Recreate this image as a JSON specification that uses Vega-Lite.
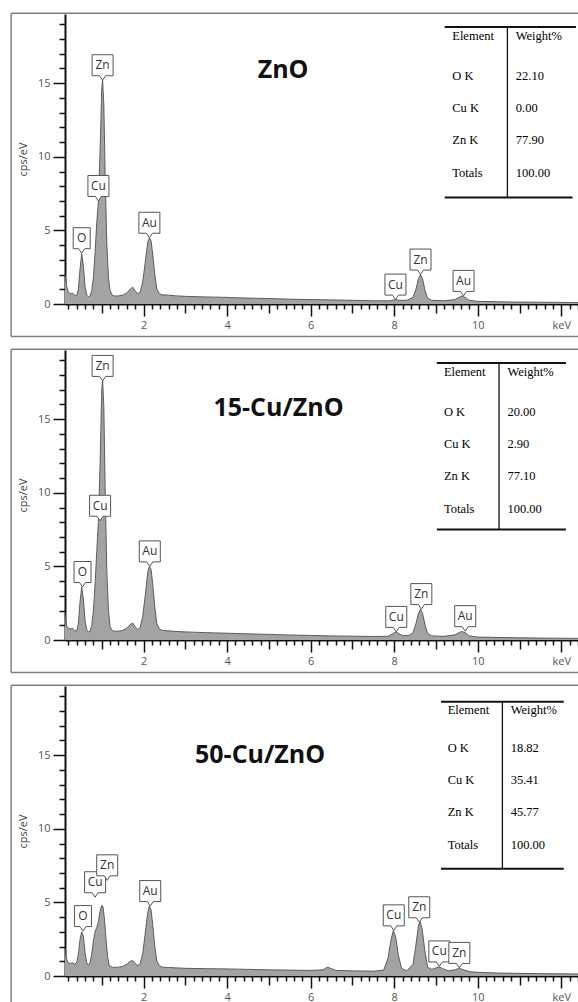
{
"$schema": "https://vega.github.io/schema/vega-lite/v6.json",
"padding": {"left": 10, "top": 12, "right": 0, "bottom": 0},
"spacing": 10,
"config": {"view": {"stroke": null}, "font": "Open Sans"},
"resolve": {"scale": {"x": "independent", "y": "independent", "shape": "independent"}},
"datasets": {
"s1": [{"keV":0.12,"cps":2.0},{"keV":0.15,"cps":1.3},{"keV":0.2,"cps":0.8},{"keV":0.25,"cps":0.7},{"keV":0.3,"cps":0.75},{"keV":0.35,"cps":0.6},{"keV":0.4,"cps":0.55},{"keV":0.44,"cps":1.0},{"keV":0.48,"cps":2.4},{"keV":0.52,"cps":3.4},{"keV":0.56,"cps":2.6},{"keV":0.6,"cps":1.2},{"keV":0.64,"cps":0.6},{"keV":0.68,"cps":0.5},{"keV":0.72,"cps":0.55},{"keV":0.76,"cps":0.9},{"keV":0.8,"cps":1.8},{"keV":0.84,"cps":3.5},{"keV":0.88,"cps":5.5},{"keV":0.92,"cps":7.0},{"keV":0.96,"cps":10.5},{"keV":1.0,"cps":14.6},{"keV":1.02,"cps":15.2},{"keV":1.05,"cps":13.5},{"keV":1.08,"cps":9.0},{"keV":1.12,"cps":4.2},{"keV":1.16,"cps":1.8},{"keV":1.2,"cps":0.9},{"keV":1.25,"cps":0.6},{"keV":1.3,"cps":0.55},{"keV":1.4,"cps":0.55},{"keV":1.5,"cps":0.6},{"keV":1.6,"cps":0.75},{"keV":1.68,"cps":1.0},{"keV":1.74,"cps":1.15},{"keV":1.8,"cps":0.9},{"keV":1.86,"cps":0.7},{"keV":1.92,"cps":0.8},{"keV":1.98,"cps":1.5},{"keV":2.04,"cps":2.8},{"keV":2.1,"cps":4.2},{"keV":2.14,"cps":4.5},{"keV":2.18,"cps":4.3},{"keV":2.22,"cps":3.4},{"keV":2.27,"cps":2.0},{"keV":2.32,"cps":1.0},{"keV":2.38,"cps":0.7},{"keV":2.45,"cps":0.62},{"keV":2.6,"cps":0.6},{"keV":2.8,"cps":0.55},{"keV":3.0,"cps":0.52},{"keV":3.5,"cps":0.48},{"keV":4.0,"cps":0.45},{"keV":4.5,"cps":0.4},{"keV":5.0,"cps":0.37},{"keV":5.5,"cps":0.33},{"keV":6.0,"cps":0.3},{"keV":6.5,"cps":0.28},{"keV":7.0,"cps":0.25},{"keV":7.5,"cps":0.22},{"keV":7.9,"cps":0.22},{"keV":8.0,"cps":0.28},{"keV":8.05,"cps":0.3},{"keV":8.12,"cps":0.25},{"keV":8.3,"cps":0.25},{"keV":8.45,"cps":0.45},{"keV":8.52,"cps":1.0},{"keV":8.58,"cps":1.7},{"keV":8.63,"cps":2.0},{"keV":8.68,"cps":1.7},{"keV":8.74,"cps":0.9},{"keV":8.8,"cps":0.4},{"keV":8.9,"cps":0.25},{"keV":9.2,"cps":0.22},{"keV":9.45,"cps":0.3},{"keV":9.55,"cps":0.45},{"keV":9.62,"cps":0.55},{"keV":9.7,"cps":0.45},{"keV":9.8,"cps":0.25},{"keV":10.0,"cps":0.18},{"keV":10.5,"cps":0.15},{"keV":11.0,"cps":0.13},{"keV":11.5,"cps":0.12},{"keV":12.0,"cps":0.11},{"keV":12.4,"cps":0.1}],
"s2": [{"keV":0.12,"cps":1.8},{"keV":0.15,"cps":1.0},{"keV":0.2,"cps":0.8},{"keV":0.25,"cps":0.75},{"keV":0.3,"cps":0.8},{"keV":0.35,"cps":0.65},{"keV":0.4,"cps":0.6},{"keV":0.44,"cps":1.1},{"keV":0.48,"cps":2.6},{"keV":0.52,"cps":3.6},{"keV":0.56,"cps":2.8},{"keV":0.6,"cps":1.3},{"keV":0.64,"cps":0.7},{"keV":0.68,"cps":0.55},{"keV":0.72,"cps":0.6},{"keV":0.76,"cps":1.0},{"keV":0.8,"cps":2.0},{"keV":0.84,"cps":3.8},{"keV":0.88,"cps":6.0},{"keV":0.92,"cps":8.1},{"keV":0.96,"cps":12.0},{"keV":1.0,"cps":17.0},{"keV":1.02,"cps":17.7},{"keV":1.05,"cps":15.8},{"keV":1.08,"cps":10.5},{"keV":1.12,"cps":4.8},{"keV":1.16,"cps":2.0},{"keV":1.2,"cps":0.9},{"keV":1.25,"cps":0.65},{"keV":1.3,"cps":0.6},{"keV":1.4,"cps":0.6},{"keV":1.5,"cps":0.65},{"keV":1.6,"cps":0.8},{"keV":1.68,"cps":1.05},{"keV":1.74,"cps":1.15},{"keV":1.8,"cps":0.9},{"keV":1.86,"cps":0.7},{"keV":1.92,"cps":0.85},{"keV":1.98,"cps":1.6},{"keV":2.04,"cps":3.0},{"keV":2.1,"cps":4.6},{"keV":2.14,"cps":5.0},{"keV":2.18,"cps":4.8},{"keV":2.22,"cps":3.8},{"keV":2.27,"cps":2.2},{"keV":2.32,"cps":1.1},{"keV":2.38,"cps":0.75},{"keV":2.45,"cps":0.65},{"keV":2.6,"cps":0.62},{"keV":2.8,"cps":0.58},{"keV":3.0,"cps":0.55},{"keV":3.5,"cps":0.5},{"keV":4.0,"cps":0.46},{"keV":4.5,"cps":0.42},{"keV":5.0,"cps":0.38},{"keV":5.5,"cps":0.34},{"keV":6.0,"cps":0.31},{"keV":6.5,"cps":0.28},{"keV":7.0,"cps":0.26},{"keV":7.5,"cps":0.24},{"keV":7.85,"cps":0.25},{"keV":7.95,"cps":0.4},{"keV":8.03,"cps":0.55},{"keV":8.1,"cps":0.45},{"keV":8.2,"cps":0.3},{"keV":8.35,"cps":0.3},{"keV":8.45,"cps":0.5},{"keV":8.52,"cps":1.1},{"keV":8.58,"cps":1.8},{"keV":8.63,"cps":2.1},{"keV":8.68,"cps":1.8},{"keV":8.74,"cps":1.0},{"keV":8.8,"cps":0.45},{"keV":8.9,"cps":0.28},{"keV":9.2,"cps":0.25},{"keV":9.45,"cps":0.35},{"keV":9.55,"cps":0.5},{"keV":9.62,"cps":0.58},{"keV":9.7,"cps":0.5},{"keV":9.8,"cps":0.28},{"keV":10.0,"cps":0.2},{"keV":10.5,"cps":0.17},{"keV":11.0,"cps":0.15},{"keV":11.5,"cps":0.13},{"keV":12.0,"cps":0.12},{"keV":12.4,"cps":0.11}],
"s3": [{"keV":0.12,"cps":1.9},{"keV":0.15,"cps":1.2},{"keV":0.2,"cps":0.9},{"keV":0.25,"cps":0.85},{"keV":0.3,"cps":0.9},{"keV":0.35,"cps":0.8},{"keV":0.4,"cps":0.9},{"keV":0.44,"cps":1.5},{"keV":0.48,"cps":2.5},{"keV":0.52,"cps":3.0},{"keV":0.56,"cps":2.7},{"keV":0.6,"cps":1.6},{"keV":0.64,"cps":0.9},{"keV":0.68,"cps":0.75},{"keV":0.72,"cps":0.9},{"keV":0.76,"cps":1.5},{"keV":0.8,"cps":2.4},{"keV":0.84,"cps":3.0},{"keV":0.88,"cps":3.3},{"keV":0.92,"cps":3.7},{"keV":0.96,"cps":4.4},{"keV":1.0,"cps":4.8},{"keV":1.03,"cps":4.7},{"keV":1.06,"cps":4.0},{"keV":1.1,"cps":2.6},{"keV":1.14,"cps":1.3},{"keV":1.18,"cps":0.7},{"keV":1.25,"cps":0.6},{"keV":1.3,"cps":0.58},{"keV":1.4,"cps":0.6},{"keV":1.5,"cps":0.65},{"keV":1.6,"cps":0.8},{"keV":1.68,"cps":1.0},{"keV":1.74,"cps":1.05},{"keV":1.8,"cps":0.85},{"keV":1.86,"cps":0.7},{"keV":1.92,"cps":0.85},{"keV":1.98,"cps":1.5},{"keV":2.04,"cps":2.9},{"keV":2.1,"cps":4.3},{"keV":2.14,"cps":4.75},{"keV":2.18,"cps":4.5},{"keV":2.22,"cps":3.5},{"keV":2.27,"cps":2.0},{"keV":2.32,"cps":1.0},{"keV":2.38,"cps":0.7},{"keV":2.45,"cps":0.6},{"keV":2.6,"cps":0.58},{"keV":2.8,"cps":0.55},{"keV":3.0,"cps":0.52},{"keV":3.5,"cps":0.5},{"keV":4.0,"cps":0.48},{"keV":4.5,"cps":0.45},{"keV":5.0,"cps":0.42},{"keV":5.5,"cps":0.4},{"keV":6.0,"cps":0.38},{"keV":6.3,"cps":0.42},{"keV":6.4,"cps":0.6},{"keV":6.5,"cps":0.5},{"keV":6.6,"cps":0.38},{"keV":7.0,"cps":0.35},{"keV":7.5,"cps":0.33},{"keV":7.75,"cps":0.4},{"keV":7.85,"cps":1.2},{"keV":7.92,"cps":2.4},{"keV":7.98,"cps":3.1},{"keV":8.04,"cps":2.6},{"keV":8.1,"cps":1.4},{"keV":8.18,"cps":0.5},{"keV":8.3,"cps":0.35},{"keV":8.45,"cps":0.8},{"keV":8.52,"cps":2.1},{"keV":8.58,"cps":3.4},{"keV":8.62,"cps":3.7},{"keV":8.67,"cps":3.2},{"keV":8.73,"cps":1.8},{"keV":8.8,"cps":0.6},{"keV":8.9,"cps":0.45},{"keV":9.0,"cps":0.55},{"keV":9.08,"cps":0.62},{"keV":9.16,"cps":0.5},{"keV":9.3,"cps":0.35},{"keV":9.45,"cps":0.42},{"keV":9.56,"cps":0.52},{"keV":9.66,"cps":0.42},{"keV":9.8,"cps":0.3},{"keV":10.0,"cps":0.25},{"keV":10.5,"cps":0.2},{"keV":11.0,"cps":0.18},{"keV":11.5,"cps":0.16},{"keV":12.0,"cps":0.15},{"keV":12.4,"cps":0.14}],
"l1": [{"el":"O","keV":0.52,"cps":3.45},{"el":"Cu","keV":0.92,"cps":7.0},{"el":"Zn","keV":1.02,"cps":15.2},{"el":"Au","keV":2.14,"cps":4.5},{"el":"Cu","keV":8.03,"cps":0.3},{"el":"Zn","keV":8.63,"cps":2.0},{"el":"Au","keV":9.66,"cps":0.55}],
"l2": [{"el":"O","keV":0.54,"cps":3.6},{"el":"Cu","keV":0.96,"cps":8.1},{"el":"Zn","keV":1.02,"cps":17.6},{"el":"Au","keV":2.15,"cps":5.0},{"el":"Cu","keV":8.05,"cps":0.55},{"el":"Zn","keV":8.65,"cps":2.1},{"el":"Au","keV":9.7,"cps":0.6}],
"l3": [{"el":"O","keV":0.55,"cps":3.05},{"el":"Cu","keV":0.84,"cps":5.35},{"el":"Zn","keV":1.13,"cps":6.5},{"el":"Au","keV":2.16,"cps":4.75},{"el":"Cu","keV":7.99,"cps":3.1},{"el":"Zn","keV":8.6,"cps":3.65},{"el":"Cu","keV":9.08,"cps":0.65},{"el":"Zn","keV":9.56,"cps":0.55}],
"t1": [{"row":1,"el":"O K","wt":"22.10"},{"row":2,"el":"Cu K","wt":"0.00"},{"row":3,"el":"Zn K","wt":"77.90"},{"row":4,"el":"Totals","wt":"100.00"}],
"t2": [{"row":1,"el":"O K","wt":"20.00"},{"row":2,"el":"Cu K","wt":"2.90"},{"row":3,"el":"Zn K","wt":"77.10"},{"row":4,"el":"Totals","wt":"100.00"}],
"t3": [{"row":1,"el":"O K","wt":"18.82"},{"row":2,"el":"Cu K","wt":"35.41"},{"row":3,"el":"Zn K","wt":"45.77"},{"row":4,"el":"Totals","wt":"100.00"}]
},
"vconcat": [
{
"width": 513, "height": 290,
"resolve": {"scale": {"y": "independent"}},
"layer": [
{"layer": [
{"data": {"name": "s1"}, "mark": {"type": "area", "color": "#a3a3a3", "opacity": 1, "line": {"color": "#505050", "strokeWidth": 0.9}},
 "encoding": {
  "x": {"field": "keV", "type": "quantitative", "scale": {"domain": [0.12, 12.4], "nice": false, "zero": false},
   "axis": {"values": [0.2,0.4,0.6,0.8,1,1.2,1.4,1.6,1.8,2,2.2,2.4,2.6,2.8,3,3.2,3.4,3.6,3.8,4,4.2,4.4,4.6,4.8,5,5.2,5.4,5.6,5.8,6,6.2,6.4,6.6,6.8,7,7.2,7.4,7.6,7.8,8,8.2,8.4,8.6,8.8,9,9.2,9.4,9.6,9.8,10,10.2,10.4,10.6,10.8,11,11.2,11.4,11.6,11.8,12,12.2,12.4], "tickCount": 200,
    "title": null, "grid": false, "labelExpr": "datum.value === 12 ? 'keV' : (datum.value % 2 === 0 ? '' + datum.value : '')",
    "tickSize": {"condition": [{"test": "datum.value % 2 === 0", "value": 12}, {"test": "datum.value % 1 === 0", "value": 9}], "value": 5},
    "labelPadding": 3, "labelOverlap": false, "labelFlush": false, "labelBound": false, "domainColor": "#111", "domainWidth": 2, "tickColor": "#111", "tickWidth": 1.5, "labelFontSize": 11, "labelColor": "#555", "labelFont": "Open Sans"}},
  "y": {"field": "cps", "type": "quantitative", "scale": {"domain": [0, 19.7], "nice": false},
   "axis": {"values": [0,1,2,3,4,5,6,7,8,9,10,11,12,13,14,15,16,17,18,19], "tickCount": 200, "title": "cps/eV", "grid": false,
    "labelExpr": "datum.value % 5 === 0 ? '' + datum.value : ''",
    "tickSize": {"condition": {"test": "datum.value % 5 === 0", "value": 12}, "value": 6},
    "labelPadding": 3, "labelOverlap": false, "labelFlush": false, "labelBound": false, "domainColor": "#111", "domainWidth": 2, "tickColor": "#111", "tickWidth": 1.5, "labelFontSize": 11, "labelColor": "#555", "labelFont": "Open Sans",
    "titleFontSize": 11, "titleFontWeight": "normal", "titleColor": "#444", "titleFont": "Open Sans", "titlePadding": 9}}
 }},
{"data": {"values": [{}]}, "mark": {"type": "rule", "color": "#808080", "strokeWidth": 1.5}, "encoding": {"x": {"datum": -1.17}, "x2": {"datum": 12.4}, "y": {"datum": 19.75}}},
{"data": {"values": [{}]}, "mark": {"type": "rule", "color": "#808080", "strokeWidth": 1.5}, "encoding": {"x": {"datum": -1.17}, "x2": {"datum": 12.4}, "y": {"datum": -2.2}}},
{"data": {"values": [{}]}, "mark": {"type": "rule", "color": "#808080", "strokeWidth": 1.5}, "encoding": {"x": {"datum": -1.17}, "y": {"datum": -2.2}, "y2": {"datum": 19.75}}},
{"data": {"values": [{"name": "ZnO"}]}, "mark": {"type": "text", "fontSize": 25, "fontWeight": "bold", "font": "Open Sans", "align": "center", "baseline": "alphabetic", "color": "#111"}, "encoding": {"x": {"datum": 5.34}, "y": {"datum": 15.37}, "text": {"field": "name"}}},
{"data": {"name": "l1"}, "mark": {"type": "point", "filled": true, "fill": "white", "stroke": "#555", "strokeWidth": 1, "size": 400, "opacity": 1},
 "encoding": {"x": {"field": "keV", "type": "quantitative"}, "y": {"field": "cps", "type": "quantitative"},
  "shape": {"field": "el", "type": "nominal", "legend": null, "scale": {"domain": ["O","Cu","Zn","Au"], "range": ["M-0.85,-2.55L0.85,-2.55L0.85,-0.45L0.3,-0.45L0,0L-0.3,-0.45L-0.85,-0.45Z","M-1.05,-2.55L1.05,-2.55L1.05,-0.45L0.3,-0.45L0,0L-0.3,-0.45L-1.05,-0.45Z","M-1.05,-2.55L1.05,-2.55L1.05,-0.45L0.3,-0.45L0,0L-0.3,-0.45L-1.05,-0.45Z","M-1.05,-2.55L1.05,-2.55L1.05,-0.45L0.3,-0.45L0,0L-0.3,-0.45L-1.05,-0.45Z"]}}}},
{"data": {"name": "l1"}, "mark": {"type": "text", "dy": -15, "fontSize": 12, "font": "Open Sans", "color": "#333", "baseline": "middle", "align": "center"},
 "encoding": {"x": {"field": "keV", "type": "quantitative"}, "y": {"field": "cps", "type": "quantitative"}, "text": {"field": "el"}}}
]},
{"layer": [
{"data": {"values": [{}]}, "mark": {"type": "rule", "color": "#111", "strokeWidth": 2}, "encoding": {"x": {"datum": 9.21}, "x2": {"datum": 12.35}, "y": {"datum": -0.53, "scale": {"domain": [-0.9375, 8.09375], "reverse": true, "nice": false, "zero": false}, "axis": null}}},
{"data": {"values": [{}]}, "mark": {"type": "rule", "color": "#111", "strokeWidth": 2}, "encoding": {"x": {"datum": 9.21}, "x2": {"datum": 12.27}, "y": {"datum": 4.78}}},
{"data": {"values": [{}]}, "mark": {"type": "rule", "color": "#111", "strokeWidth": 1.3}, "encoding": {"x": {"datum": 10.71}, "y": {"datum": -0.53}, "y2": {"datum": 4.78}}},
{"data": {"values": [{"a": "Element", "b": "Weight%"}]}, "mark": {"type": "text", "font": "Liberation Serif", "fontSize": 12.5, "align": "left", "baseline": "middle", "color": "#000", "dy": -8}, "encoding": {"x": {"datum": 9.39}, "y": {"datum": 0}, "text": {"field": "a"}}},
{"data": {"values": [{"a": "Element", "b": "Weight%"}]}, "mark": {"type": "text", "font": "Liberation Serif", "fontSize": 12.5, "align": "left", "baseline": "middle", "color": "#000", "dy": -8}, "encoding": {"x": {"datum": 10.91}, "y": {"datum": 0}, "text": {"field": "b"}}},
{"data": {"name": "t1"}, "mark": {"type": "text", "font": "Liberation Serif", "fontSize": 12.5, "align": "left", "baseline": "middle", "color": "#000"}, "encoding": {"x": {"datum": 9.39}, "y": {"field": "row", "type": "quantitative"}, "text": {"field": "el"}}},
{"data": {"name": "t1"}, "mark": {"type": "text", "font": "Liberation Serif", "fontSize": 12.5, "align": "left", "baseline": "middle", "color": "#000"}, "encoding": {"x": {"datum": 10.91}, "y": {"field": "row", "type": "quantitative"}, "text": {"field": "wt"}}}
]}
]
},
{
"width": 513, "height": 290,
"resolve": {"scale": {"y": "independent"}},
"layer": [
{"layer": [
{"data": {"name": "s2"}, "mark": {"type": "area", "color": "#a3a3a3", "opacity": 1, "line": {"color": "#505050", "strokeWidth": 0.9}},
 "encoding": {
  "x": {"field": "keV", "type": "quantitative", "scale": {"domain": [0.12, 12.4], "nice": false, "zero": false},
   "axis": {"values": [0.2,0.4,0.6,0.8,1,1.2,1.4,1.6,1.8,2,2.2,2.4,2.6,2.8,3,3.2,3.4,3.6,3.8,4,4.2,4.4,4.6,4.8,5,5.2,5.4,5.6,5.8,6,6.2,6.4,6.6,6.8,7,7.2,7.4,7.6,7.8,8,8.2,8.4,8.6,8.8,9,9.2,9.4,9.6,9.8,10,10.2,10.4,10.6,10.8,11,11.2,11.4,11.6,11.8,12,12.2,12.4], "tickCount": 200,
    "title": null, "grid": false, "labelExpr": "datum.value === 12 ? 'keV' : (datum.value % 2 === 0 ? '' + datum.value : '')",
    "tickSize": {"condition": [{"test": "datum.value % 2 === 0", "value": 12}, {"test": "datum.value % 1 === 0", "value": 9}], "value": 5},
    "labelPadding": 3, "labelOverlap": false, "labelFlush": false, "labelBound": false, "domainColor": "#111", "domainWidth": 2, "tickColor": "#111", "tickWidth": 1.5, "labelFontSize": 11, "labelColor": "#555", "labelFont": "Open Sans"}},
  "y": {"field": "cps", "type": "quantitative", "scale": {"domain": [0, 19.7], "nice": false},
   "axis": {"values": [0,1,2,3,4,5,6,7,8,9,10,11,12,13,14,15,16,17,18,19], "tickCount": 200, "title": "cps/eV", "grid": false,
    "labelExpr": "datum.value % 5 === 0 ? '' + datum.value : ''",
    "tickSize": {"condition": {"test": "datum.value % 5 === 0", "value": 12}, "value": 6},
    "labelPadding": 3, "labelOverlap": false, "labelFlush": false, "labelBound": false, "domainColor": "#111", "domainWidth": 2, "tickColor": "#111", "tickWidth": 1.5, "labelFontSize": 11, "labelColor": "#555", "labelFont": "Open Sans",
    "titleFontSize": 11, "titleFontWeight": "normal", "titleColor": "#444", "titleFont": "Open Sans", "titlePadding": 9}}
 }},
{"data": {"values": [{}]}, "mark": {"type": "rule", "color": "#808080", "strokeWidth": 1.5}, "encoding": {"x": {"datum": -1.17}, "x2": {"datum": 12.4}, "y": {"datum": 19.75}}},
{"data": {"values": [{}]}, "mark": {"type": "rule", "color": "#808080", "strokeWidth": 1.5}, "encoding": {"x": {"datum": -1.17}, "x2": {"datum": 12.4}, "y": {"datum": -2.2}}},
{"data": {"values": [{}]}, "mark": {"type": "rule", "color": "#808080", "strokeWidth": 1.5}, "encoding": {"x": {"datum": -1.17}, "y": {"datum": -2.2}, "y2": {"datum": 19.75}}},
{"data": {"values": [{"name": "15-Cu/ZnO"}]}, "mark": {"type": "text", "fontSize": 25, "fontWeight": "bold", "font": "Open Sans", "align": "center", "baseline": "alphabetic", "color": "#111"}, "encoding": {"x": {"datum": 5.23}, "y": {"datum": 15.22}, "text": {"field": "name"}}},
{"data": {"name": "l2"}, "mark": {"type": "point", "filled": true, "fill": "white", "stroke": "#555", "strokeWidth": 1, "size": 400, "opacity": 1},
 "encoding": {"x": {"field": "keV", "type": "quantitative"}, "y": {"field": "cps", "type": "quantitative"},
  "shape": {"field": "el", "type": "nominal", "legend": null, "scale": {"domain": ["O","Cu","Zn","Au"], "range": ["M-0.85,-2.55L0.85,-2.55L0.85,-0.45L0.3,-0.45L0,0L-0.3,-0.45L-0.85,-0.45Z","M-1.05,-2.55L1.05,-2.55L1.05,-0.45L0.3,-0.45L0,0L-0.3,-0.45L-1.05,-0.45Z","M-1.05,-2.55L1.05,-2.55L1.05,-0.45L0.3,-0.45L0,0L-0.3,-0.45L-1.05,-0.45Z","M-1.05,-2.55L1.05,-2.55L1.05,-0.45L0.3,-0.45L0,0L-0.3,-0.45L-1.05,-0.45Z"]}}}},
{"data": {"name": "l2"}, "mark": {"type": "text", "dy": -15, "fontSize": 12, "font": "Open Sans", "color": "#333", "baseline": "middle", "align": "center"},
 "encoding": {"x": {"field": "keV", "type": "quantitative"}, "y": {"field": "cps", "type": "quantitative"}, "text": {"field": "el"}}}
]},
{"layer": [
{"data": {"values": [{}]}, "mark": {"type": "rule", "color": "#111", "strokeWidth": 2}, "encoding": {"x": {"datum": 9.02}, "x2": {"datum": 12.11}, "y": {"datum": -0.53, "scale": {"domain": [-0.9375, 8.09375], "reverse": true, "nice": false, "zero": false}, "axis": null}}},
{"data": {"values": [{}]}, "mark": {"type": "rule", "color": "#111", "strokeWidth": 2}, "encoding": {"x": {"datum": 9.02}, "x2": {"datum": 12.11}, "y": {"datum": 4.65}}},
{"data": {"values": [{}]}, "mark": {"type": "rule", "color": "#111", "strokeWidth": 1.3}, "encoding": {"x": {"datum": 10.51}, "y": {"datum": -0.53}, "y2": {"datum": 4.65}}},
{"data": {"values": [{"a": "Element", "b": "Weight%"}]}, "mark": {"type": "text", "font": "Liberation Serif", "fontSize": 12.5, "align": "left", "baseline": "middle", "color": "#000", "dy": -8}, "encoding": {"x": {"datum": 9.19}, "y": {"datum": 0}, "text": {"field": "a"}}},
{"data": {"values": [{"a": "Element", "b": "Weight%"}]}, "mark": {"type": "text", "font": "Liberation Serif", "fontSize": 12.5, "align": "left", "baseline": "middle", "color": "#000", "dy": -8}, "encoding": {"x": {"datum": 10.71}, "y": {"datum": 0}, "text": {"field": "b"}}},
{"data": {"name": "t2"}, "mark": {"type": "text", "font": "Liberation Serif", "fontSize": 12.5, "align": "left", "baseline": "middle", "color": "#000"}, "encoding": {"x": {"datum": 9.19}, "y": {"field": "row", "type": "quantitative"}, "text": {"field": "el"}}},
{"data": {"name": "t2"}, "mark": {"type": "text", "font": "Liberation Serif", "fontSize": 12.5, "align": "left", "baseline": "middle", "color": "#000"}, "encoding": {"x": {"datum": 10.71}, "y": {"field": "row", "type": "quantitative"}, "text": {"field": "wt"}}}
]}
]
},
{
"width": 513, "height": 290,
"resolve": {"scale": {"y": "independent"}},
"layer": [
{"layer": [
{"data": {"name": "s3"}, "mark": {"type": "area", "color": "#a3a3a3", "opacity": 1, "line": {"color": "#505050", "strokeWidth": 0.9}},
 "encoding": {
  "x": {"field": "keV", "type": "quantitative", "scale": {"domain": [0.12, 12.4], "nice": false, "zero": false},
   "axis": {"values": [0.2,0.4,0.6,0.8,1,1.2,1.4,1.6,1.8,2,2.2,2.4,2.6,2.8,3,3.2,3.4,3.6,3.8,4,4.2,4.4,4.6,4.8,5,5.2,5.4,5.6,5.8,6,6.2,6.4,6.6,6.8,7,7.2,7.4,7.6,7.8,8,8.2,8.4,8.6,8.8,9,9.2,9.4,9.6,9.8,10,10.2,10.4,10.6,10.8,11,11.2,11.4,11.6,11.8,12,12.2,12.4], "tickCount": 200,
    "title": null, "grid": false, "labelExpr": "datum.value === 12 ? 'keV' : (datum.value % 2 === 0 ? '' + datum.value : '')",
    "tickSize": {"condition": [{"test": "datum.value % 2 === 0", "value": 12}, {"test": "datum.value % 1 === 0", "value": 9}], "value": 5},
    "labelPadding": 3, "labelOverlap": false, "labelFlush": false, "labelBound": false, "domainColor": "#111", "domainWidth": 2, "tickColor": "#111", "tickWidth": 1.5, "labelFontSize": 11, "labelColor": "#555", "labelFont": "Open Sans"}},
  "y": {"field": "cps", "type": "quantitative", "scale": {"domain": [0, 19.7], "nice": false},
   "axis": {"values": [0,1,2,3,4,5,6,7,8,9,10,11,12,13,14,15,16,17,18,19], "tickCount": 200, "title": "cps/eV", "grid": false,
    "labelExpr": "datum.value % 5 === 0 ? '' + datum.value : ''",
    "tickSize": {"condition": {"test": "datum.value % 5 === 0", "value": 12}, "value": 6},
    "labelPadding": 3, "labelOverlap": false, "labelFlush": false, "labelBound": false, "domainColor": "#111", "domainWidth": 2, "tickColor": "#111", "tickWidth": 1.5, "labelFontSize": 11, "labelColor": "#555", "labelFont": "Open Sans",
    "titleFontSize": 11, "titleFontWeight": "normal", "titleColor": "#444", "titleFont": "Open Sans", "titlePadding": 9}}
 }},
{"data": {"values": [{}]}, "mark": {"type": "rule", "color": "#808080", "strokeWidth": 1.5}, "encoding": {"x": {"datum": -1.17}, "x2": {"datum": 12.4}, "y": {"datum": 19.75}}},
{"data": {"values": [{}]}, "mark": {"type": "rule", "color": "#808080", "strokeWidth": 1.5}, "encoding": {"x": {"datum": -1.17}, "y": {"datum": -2.0}, "y2": {"datum": 19.75}}},
{"data": {"values": [{"name": "50-Cu/ZnO"}]}, "mark": {"type": "text", "fontSize": 25, "fontWeight": "bold", "font": "Open Sans", "align": "center", "baseline": "alphabetic", "color": "#111"}, "encoding": {"x": {"datum": 4.79}, "y": {"datum": 14.47}, "text": {"field": "name"}}},
{"data": {"name": "l3"}, "mark": {"type": "point", "filled": true, "fill": "white", "stroke": "#555", "strokeWidth": 1, "size": 400, "opacity": 1},
 "encoding": {"x": {"field": "keV", "type": "quantitative"}, "y": {"field": "cps", "type": "quantitative"},
  "shape": {"field": "el", "type": "nominal", "legend": null, "scale": {"domain": ["O","Cu","Zn","Au"], "range": ["M-0.85,-2.55L0.85,-2.55L0.85,-0.45L0.3,-0.45L0,0L-0.3,-0.45L-0.85,-0.45Z","M-1.05,-2.55L1.05,-2.55L1.05,-0.45L0.3,-0.45L0,0L-0.3,-0.45L-1.05,-0.45Z","M-1.05,-2.55L1.05,-2.55L1.05,-0.45L0.3,-0.45L0,0L-0.3,-0.45L-1.05,-0.45Z","M-1.05,-2.55L1.05,-2.55L1.05,-0.45L0.3,-0.45L0,0L-0.3,-0.45L-1.05,-0.45Z"]}}}},
{"data": {"name": "l3"}, "mark": {"type": "text", "dy": -15, "fontSize": 12, "font": "Open Sans", "color": "#333", "baseline": "middle", "align": "center"},
 "encoding": {"x": {"field": "keV", "type": "quantitative"}, "y": {"field": "cps", "type": "quantitative"}, "text": {"field": "el"}}}
]},
{"layer": [
{"data": {"values": [{}]}, "mark": {"type": "rule", "color": "#111", "strokeWidth": 2}, "encoding": {"x": {"datum": 9.12}, "x2": {"datum": 12.06}, "y": {"datum": -0.45, "scale": {"domain": [-0.9375, 8.09375], "reverse": true, "nice": false, "zero": false}, "axis": null}}},
{"data": {"values": [{}]}, "mark": {"type": "rule", "color": "#111", "strokeWidth": 2}, "encoding": {"x": {"datum": 9.12}, "x2": {"datum": 12.06}, "y": {"datum": 4.75}}},
{"data": {"values": [{}]}, "mark": {"type": "rule", "color": "#111", "strokeWidth": 1.3}, "encoding": {"x": {"datum": 10.59}, "y": {"datum": -0.45}, "y2": {"datum": 4.75}}},
{"data": {"values": [{"a": "Element", "b": "Weight%"}]}, "mark": {"type": "text", "font": "Liberation Serif", "fontSize": 12.5, "align": "left", "baseline": "middle", "color": "#000", "dy": -6}, "encoding": {"x": {"datum": 9.28}, "y": {"datum": 0}, "text": {"field": "a"}}},
{"data": {"values": [{"a": "Element", "b": "Weight%"}]}, "mark": {"type": "text", "font": "Liberation Serif", "fontSize": 12.5, "align": "left", "baseline": "middle", "color": "#000", "dy": -6}, "encoding": {"x": {"datum": 10.79}, "y": {"datum": 0}, "text": {"field": "b"}}},
{"data": {"name": "t3"}, "mark": {"type": "text", "font": "Liberation Serif", "fontSize": 12.5, "align": "left", "baseline": "middle", "color": "#000"}, "encoding": {"x": {"datum": 9.28}, "y": {"field": "row", "type": "quantitative"}, "text": {"field": "el"}}},
{"data": {"name": "t3"}, "mark": {"type": "text", "font": "Liberation Serif", "fontSize": 12.5, "align": "left", "baseline": "middle", "color": "#000"}, "encoding": {"x": {"datum": 10.79}, "y": {"field": "row", "type": "quantitative"}, "text": {"field": "wt"}}}
]}
]
}
]
}
